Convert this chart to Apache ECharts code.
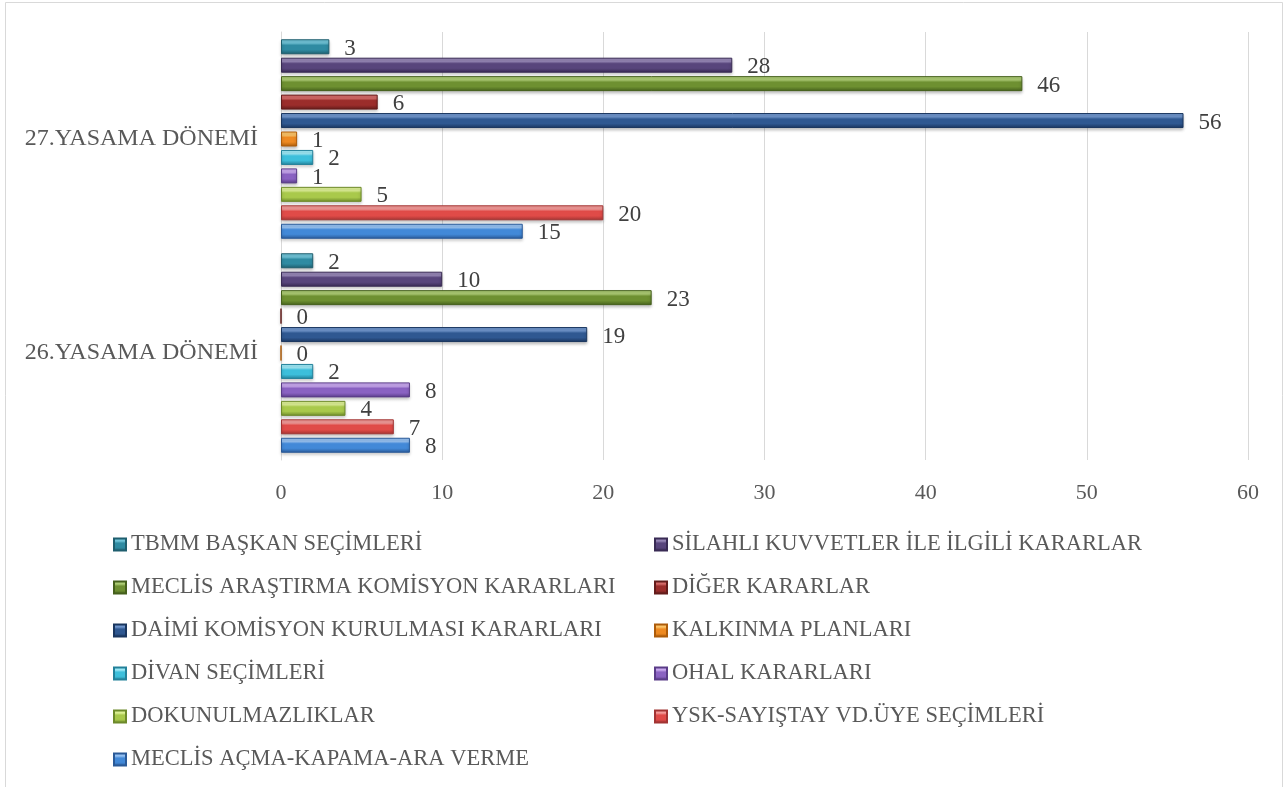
<!DOCTYPE html>
<html>
<head>
<meta charset="utf-8">
<script src="https://cdn.jsdelivr.net/npm/echarts@6/dist/echarts.min.js"></script>
<style>
  html, body { margin: 0; padding: 0; background: #fff; }
  #chart { width: 1288px; height: 787px; }
</style>
</head>
<body>
<div id="chart"></div>
<script>
// categories (bottom to top)
const categories = ["26.YASAMA DÖNEMİ", "27.YASAMA DÖNEMİ"];

// series names, first one drawn at the top of each group
const seriesNames = [
  "TBMM BAŞKAN SEÇİMLERİ",
  "SİLAHLI KUVVETLER İLE İLGİLİ KARARLAR",
  "MECLİS ARAŞTIRMA KOMİSYON KARARLARI",
  "DİĞER KARARLAR",
  "DAİMİ KOMİSYON KURULMASI KARARLARI",
  "KALKINMA PLANLARI",
  "DİVAN SEÇİMLERİ",
  "OHAL KARARLARI",
  "DOKUNULMAZLIKLAR",
  "YSK-SAYIŞTAY VD.ÜYE SEÇİMLERİ",
  "MECLİS AÇMA-KAPAMA-ARA VERME"
];

// values per series: [26. dönem, 27. dönem]
const tbmmBaskan = [2, 3];
const silahli = [10, 28];
const arastirma = [23, 46];
const diger = [0, 6];
const daimiKomisyon = [19, 56];
const kalkinma = [0, 1];
const divan = [2, 2];
const ohal = [8, 1];
const dokunulmazlik = [4, 5];
const yskSayistay = [7, 20];
const meclisAcma = [8, 15];
const seriesValues = [tbmmBaskan, silahli, arastirma, diger, daimiKomisyon, kalkinma,
  divan, ohal, dokunulmazlik, yskSayistay, meclisAcma];

const xTicks = { min: 0, max: 60, interval: 10 };

// legend columns (Excel-like ordering)
const legendLeft = ["TBMM BAŞKAN SEÇİMLERİ", "MECLİS ARAŞTIRMA KOMİSYON KARARLARI",
  "DAİMİ KOMİSYON KURULMASI KARARLARI", "DİVAN SEÇİMLERİ", "DOKUNULMAZLIKLAR",
  "MECLİS AÇMA-KAPAMA-ARA VERME"];
const legendRight = ["SİLAHLI KUVVETLER İLE İLGİLİ KARARLAR", "DİĞER KARARLAR",
  "KALKINMA PLANLARI", "OHAL KARARLARI", "YSK-SAYIŞTAY VD.ÜYE SEÇİMLERİ"];

// [light, base, dark] for the bevelled bars
const palette = [
  ["#70c4d8", "#2f8ba2", "#1f5e6e"],
  ["#9585b5", "#58457c", "#392b54"],
  ["#adcc74", "#6e9031", "#45601c"],
  ["#d46a68", "#9b2d2b", "#631c1b"],
  ["#6f95cc", "#2f5891", "#1a365f"],
  ["#fcc468", "#ee8a22", "#ad5c0a"],
  ["#9ce8f6", "#3dbfdb", "#23819a"],
  ["#c8a8ee", "#8a62c2", "#5a3c88"],
  ["#dcef94", "#a9c94b", "#6d8a2a"],
  ["#f39a98", "#e04b48", "#a23433"],
  ["#94c0f2", "#4289d8", "#2a5a98"]
];

const serif = "'Liberation Serif', 'Times New Roman', serif";

const bevel = (c) => new echarts.graphic.LinearGradient(0, 0, 0, 1, [
  { offset: 0, color: c[0] },
  { offset: 0.25, color: c[0] },
  { offset: 0.4, color: c[1] },
  { offset: 0.7, color: c[1] },
  { offset: 1, color: c[2] }
]);

const chart = echarts.init(document.getElementById("chart"));

const legendText = { fontFamily: serif, fontSize: 22.5, color: "#595959", lineHeight: 22 };

const option = {
  backgroundColor: "#fff",
  animation: false,
  graphic: [{
    type: "rect",
    shape: { x: 5.5, y: 2.5, width: 1277, height: 820 },
    style: { fill: "none", stroke: "#d9d9d9", lineWidth: 1 },
    silent: true
  }],
  grid: { left: 281, right: 40, top: 32, bottom: 327 },
  legend: [
    {
      orient: "vertical", left: 113, top: 533, itemGap: 20, padding: 0,
      itemWidth: 12, itemHeight: 12, icon: "rect",
      data: legendLeft,
      textStyle: legendText
    },
    {
      orient: "vertical", left: 654, top: 533, itemGap: 20, padding: 0,
      itemWidth: 12, itemHeight: 12, icon: "rect",
      data: legendRight,
      textStyle: legendText
    }
  ],
  xAxis: {
    type: "value",
    min: xTicks.min, max: xTicks.max, interval: xTicks.interval,
    axisLine: { show: false },
    axisTick: { show: false },
    axisLabel: { fontFamily: serif, fontSize: 22, color: "#595959", margin: 22 },
    splitLine: { lineStyle: { color: "#d9d9d9", width: 1 } }
  },
  yAxis: {
    type: "category",
    data: categories,
    axisLine: { lineStyle: { color: "#d9d9d9" } },
    axisTick: { show: false },
    axisLabel: { fontFamily: serif, fontSize: 24, color: "#595959", margin: 23 }
  },
  series: seriesNames.map((name, i) => ({
    name: name,
    type: "bar",
    data: seriesValues[i],
    barWidth: 15,
    barGap: "23%",
    itemStyle: {
      color: bevel(palette[i]),
      borderColor: palette[i][2],
      borderWidth: 1,
      shadowColor: "rgba(0,0,0,0.25)",
      shadowBlur: 3,
      shadowOffsetY: 2
    },
    label: {
      show: true,
      position: "right",
      distance: 15,
      offset: [0, 2],
      fontFamily: serif,
      fontSize: 23,
      color: "#404040"
    }
  }))
};

chart.setOption(option);
</script>
</body>
</html>
